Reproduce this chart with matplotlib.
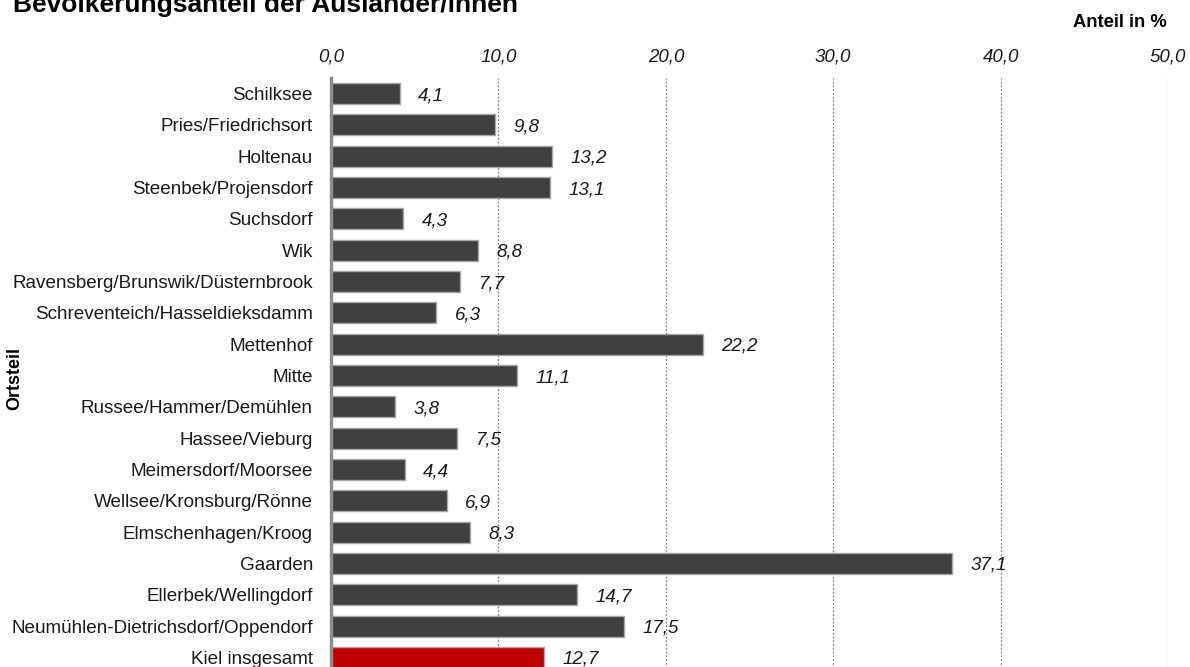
import matplotlib
matplotlib.use("Agg")
import matplotlib.pyplot as plt

plt.rcParams['font.family'] = ['Liberation Sans', 'DejaVu Sans']

categories = [
    "Schilksee", "Pries/Friedrichsort", "Holtenau", "Steenbek/Projensdorf",
    "Suchsdorf", "Wik", "Ravensberg/Brunswik/Düsternbrook",
    "Schreventeich/Hasseldieksdamm", "Mettenhof", "Mitte",
    "Russee/Hammer/Demühlen", "Hassee/Vieburg", "Meimersdorf/Moorsee",
    "Wellsee/Kronsburg/Rönne", "Elmschenhagen/Kroog", "Gaarden",
    "Ellerbek/Wellingdorf", "Neumühlen-Dietrichsdorf/Oppendorf",
    "Kiel insgesamt",
]
values = [4.1, 9.8, 13.2, 13.1, 4.3, 8.8, 7.7, 6.3, 22.2, 11.1,
          3.8, 7.5, 4.4, 6.9, 8.3, 37.1, 14.7, 17.5, 12.7]
xticks = [0, 10, 20, 30, 40, 50]
xtick_labels = ["0,0", "10,0", "20,0", "30,0", "40,0", "50,0"]

W, H = 1190, 667
fig = plt.figure(figsize=(W / 100, H / 100), dpi=100)
left, right, top, bottom = 331, 1168, 78, 673
ax = fig.add_axes([left / W, 1 - bottom / H, (right - left) / W, (bottom - top) / H])

colors = ["#404040"] * (len(values) - 1) + ["#c00000"]
ypos = list(range(len(categories)))
ax.barh(ypos, values, height=0.67, color=colors, edgecolor="#a6a6a6",
        linewidth=1.0, zorder=3)

for y, v in zip(ypos, values):
    ax.annotate(f"{v:.1f}".replace(".", ","), xy=(v, y), xytext=(13.4, -1.5),
                textcoords="offset points", ha="left", va="center",
                fontsize=13.5, style="italic", color="#1a1a1a")

ax.set_xlim(0, 50)
ax.set_ylim(len(categories) - 0.5, -0.5)
ax.set_yticks(ypos)
ax.set_yticklabels(categories, fontsize=13.55, color="#1a1a1a")
ax.set_xticks(xticks)
ax.set_xticklabels(xtick_labels, fontsize=13.5, style="italic", color="#1a1a1a")
ax.xaxis.tick_top()
ax.tick_params(axis="x", length=0, pad=9)
ax.tick_params(axis="y", length=0, pad=13)

for s in ["top", "right", "bottom"]:
    ax.spines[s].set_visible(False)
ax.spines["left"].set_color("#8c8c8c")
ax.spines["left"].set_linewidth(2.4)
ax.spines["left"].set_zorder(4)

ax.grid(axis="x", linestyle=(0, (1.5, 1.5)), color="#808080", linewidth=0.9, zorder=0)
ax.grid(axis="y", visible=False)
ax.xaxis.get_gridlines()[0].set_visible(False)

fig.text(13 / W, 1 - 12 / H, "Bevölkerungsanteil der Ausländer/innen",
         fontsize=19, fontweight="bold", ha="left", va="baseline", color="#000000")
fig.text(1167 / W, 1 - 27 / H, "Anteil in %", fontsize=13.2, fontweight="bold",
         ha="right", va="baseline", color="#000000")
fig.text(15 / W, 1 - 378 / H, "Ortsteil", fontsize=13, fontweight="bold",
         rotation=90, ha="center", va="center", color="#000000")

fig.savefig("out.png", dpi=100)
